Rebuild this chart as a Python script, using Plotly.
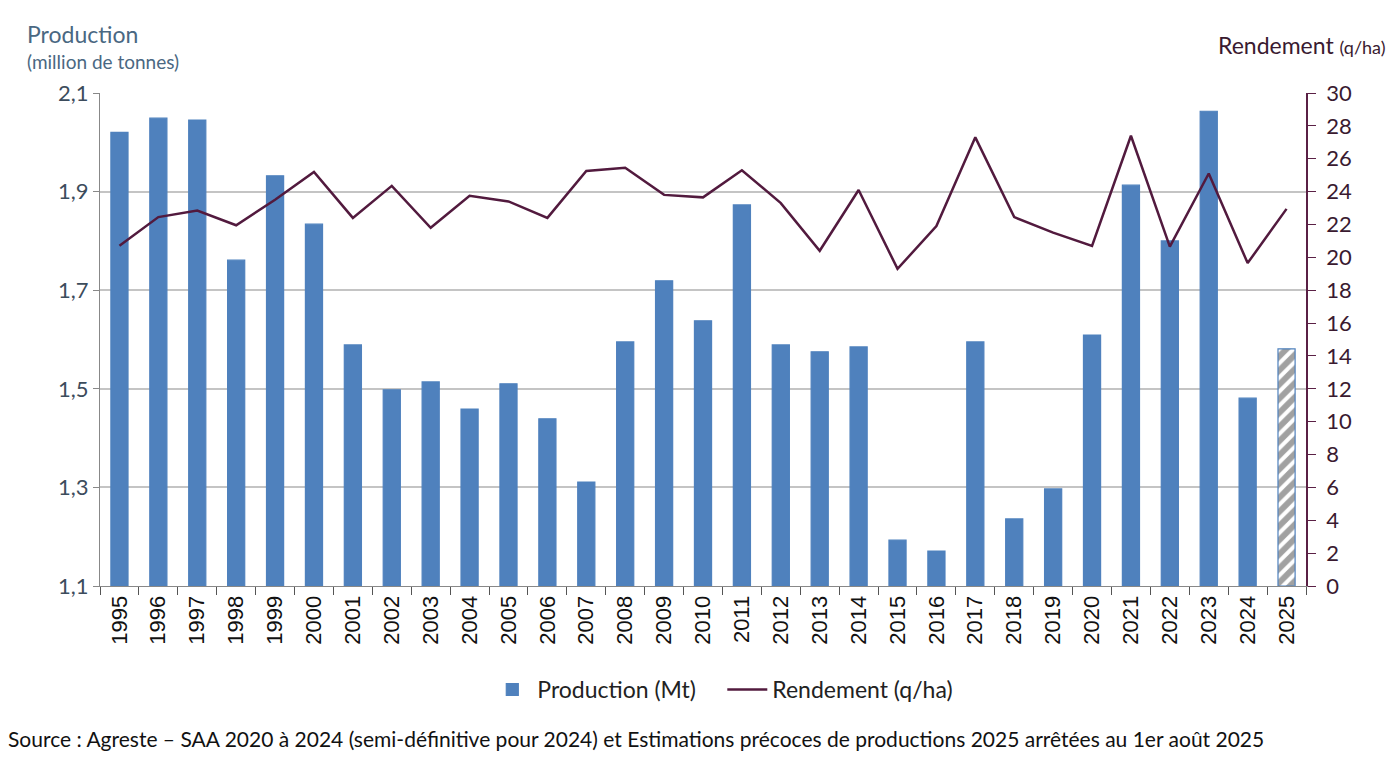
import plotly.graph_objects as go

years = [str(y) for y in range(1995, 2026)]
production = [2.020, 2.049, 2.045, 1.761, 1.932, 1.834, 1.589, 1.498, 1.514, 1.459,
              1.510, 1.439, 1.311, 1.595, 1.719, 1.638, 1.873, 1.589, 1.575, 1.585,
              1.193, 1.171, 1.595, 1.236, 1.297, 1.609, 1.913, 1.800, 2.063, 1.481,
              1.581]
rendement = [20.7, 22.45, 22.85, 21.95, 23.5, 25.2, 22.4, 24.35, 21.8, 23.75,
             23.4, 22.4, 25.25, 25.45, 23.8, 23.65, 25.3, 23.3, 20.4, 24.1,
             19.3, 21.9, 27.3, 22.45, 21.5, 20.7, 27.4, 20.65, 25.1, 19.65,
             22.95]
left_ticks = [1.1, 1.3, 1.5, 1.7, 1.9, 2.1]
right_ticks = list(range(0, 31, 2))

BLUE = "#4f81bd"
LINE = "#521a3e"
FONT = "Lato, 'Open Sans', sans-serif"

shapes_pattern = [""] * (len(years) - 1) + ["/"]
bg = [BLUE] * (len(years) - 1) + ["white"]

fig = go.Figure()
fig.add_trace(go.Bar(
    x=years, y=[p - 1.1 for p in production], base=1.1,
    name="Production (Mt)",
    customdata=production,
    hovertemplate="%{x}: %{customdata}<extra></extra>",
    marker=dict(color=bg, line=dict(color=BLUE, width=1.2),
                pattern=dict(shape=shapes_pattern, fgcolor=BLUE, bgcolor="white",
                             size=10, solidity=0.6)),
    yaxis="y",
))
fig.add_trace(go.Scatter(
    x=years, y=rendement, name="Rendement (q/ha)", mode="lines",
    line=dict(color=LINE, width=2.5), yaxis="y2",
))

fig.update_layout(
    width=1400, height=784,
    margin=dict(l=100, r=94, t=93, b=198),
    paper_bgcolor="white", plot_bgcolor="white",
    separators=", ",
    bargap=0.56,
    showlegend=True,
    legend=dict(orientation="h", x=0.516, xanchor="center", y=-0.21, yanchor="middle",
                font=dict(family=FONT, size=23, color="#222222"),
                itemwidth=40, traceorder="normal", entrywidth=180),
    xaxis=dict(type="category", tickangle=-90, ticks="outside", tickson="boundaries",
               ticklen=8, tickcolor="#555555", showline=True, linecolor="#888888",
               linewidth=1, showgrid=False,
               tickfont=dict(family="Liberation Sans, Arial, sans-serif", size=22, color="#111111")),
    yaxis=dict(range=[1.1, 2.1], tickvals=left_ticks, tickformat=".1f",
               showgrid=True, gridcolor="#c4c4c4", gridwidth=1.5,
               showline=True, linecolor="#888888", linewidth=1,
               ticks="outside", ticklen=6, tickcolor="#888888",
               tickfont=dict(family=FONT, size=22, color="#3c4c5c"), zeroline=False),
    yaxis2=dict(range=[0, 30], tickvals=right_ticks, overlaying="y", side="right",
                showgrid=False, showline=True, linecolor="#5a2045", linewidth=1.5,
                ticks="outside", ticklen=8, tickcolor="#5a2045", ticklabelstandoff=6,
                tickfont=dict(family=FONT, size=22, color="#3a1a30"), zeroline=False),
    annotations=[
        dict(text="Production", xref="paper", yref="paper", x=-0.062, y=1.12,
             xanchor="left", yanchor="middle", showarrow=False,
             font=dict(family=FONT, size=23, color="#4a6882")),
        dict(text="(million de tonnes)", xref="paper", yref="paper", x=-0.062, y=1.063,
             xanchor="left", yanchor="middle", showarrow=False,
             font=dict(family=FONT, size=19, color="#4a6882")),
        dict(text="Rendement <span style='font-size:18px'>(q/ha)</span>", xref="paper", yref="paper",
             x=1.068, y=1.097, xanchor="right", yanchor="middle", showarrow=False,
             font=dict(family=FONT, size=23, color="#3a1a30")),
        dict(text="Source : Agreste – SAA 2020 à 2024 (semi-définitive pour 2024) et Estimations précoces de productions 2025 arrêtées au 1er août 2025",
             xref="paper", yref="paper", x=-0.078, y=-0.31, xanchor="left", yanchor="middle",
             showarrow=False, font=dict(family=FONT, size=21, color="#111111")),
    ],
)

fig.write_html("out.html")
